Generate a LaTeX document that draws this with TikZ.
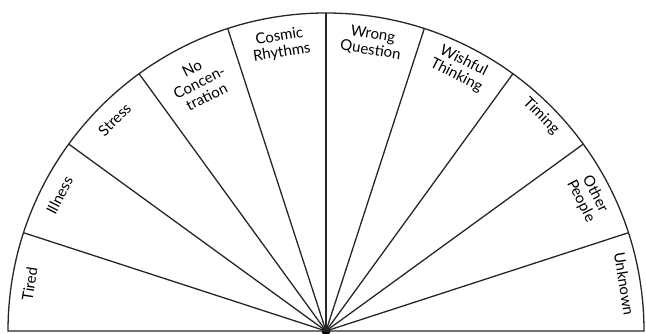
\documentclass[tikz,border=0pt]{standalone}
\usepackage{fontspec}
\setmainfont{Lato}
\usetikzlibrary{calc}
\begin{document}
\begin{tikzpicture}[x=1pt,y=1pt,
  spoke/.style={line width=1.3pt, draw=black!85},
  lab/.style={font=\fontsize{15}{16}\selectfont, align=center, inner sep=0pt, text=black}]
\useasboundingbox (0,0) rectangle (646,333);
\node[circle, fill=black, inner sep=0pt, minimum size=9pt] (c) at (326,2) {};
\foreach \k in {0,...,10} {
  \coordinate (p\k) at ($(c.center)+({180-18*\k}:318)$);
}
\draw[spoke] (p0) arc[start angle=180, end angle=0, radius=318] -- cycle;
\foreach \k in {1,...,9} {
  \draw[spoke] (c.center) -- (p\k);
}
\foreach \i/\t/\r in {1/Tired/300, 2/Illness/299, 3/Stress/299, 4/{No\\Concen-\\tration}/279,
  5/{Cosmic\\Rhythms}/290, 6/{Wrong\\Question}/292, 7/{Wishful\\Thinking}/295,
  8/Timing/304, 9/{Other\\People}/294, 10/Unknown/302} {
  \pgfmathsetmacro\ang{189-18*\i}
  \node[lab, rotate=\ang-90] (l\i) at ($(c.center)+(\ang:\r)$) {\t};
}
\end{tikzpicture}
\end{document}
